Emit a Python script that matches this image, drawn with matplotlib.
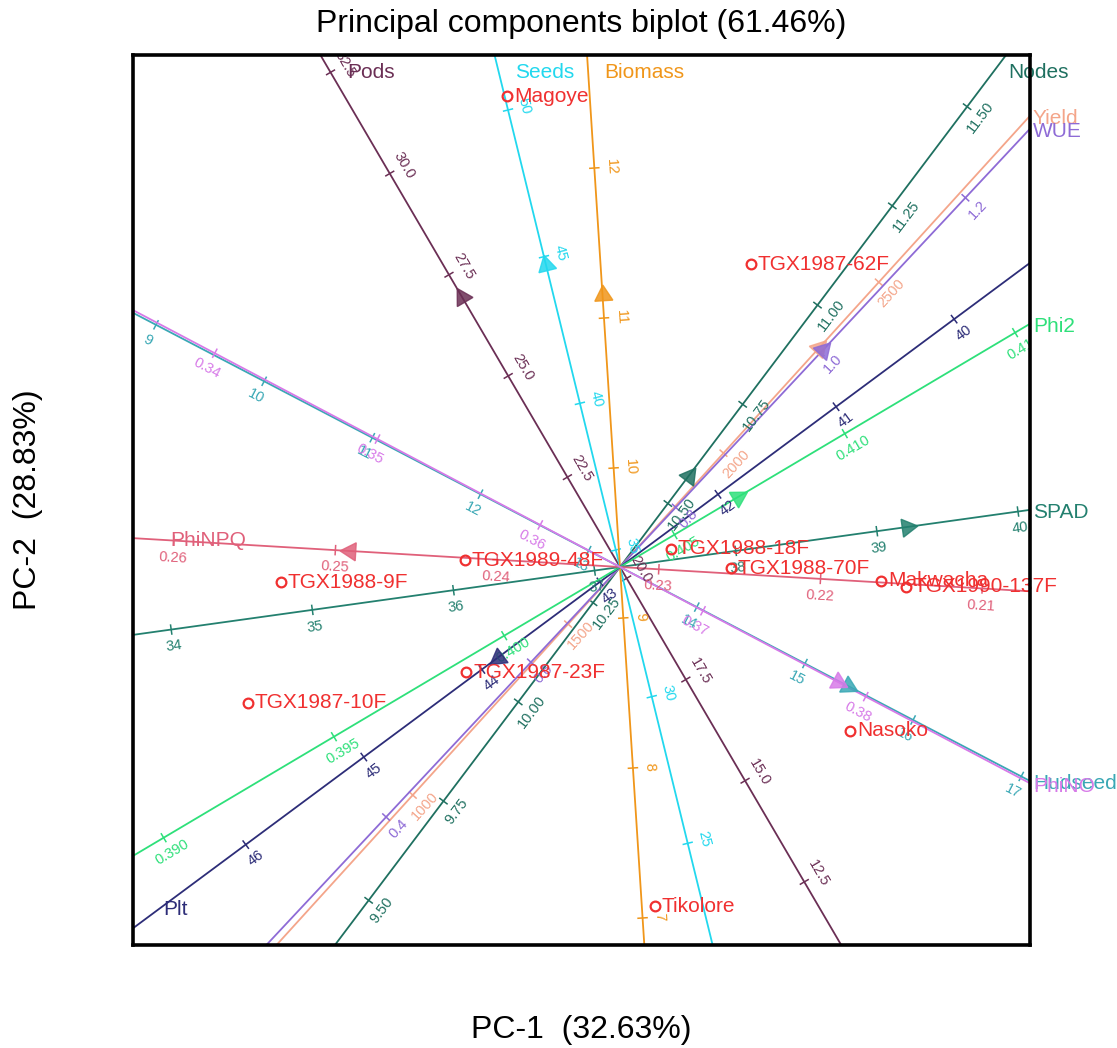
import numpy as np
import matplotlib
matplotlib.use("Agg")
import matplotlib.pyplot as plt

plt.rcParams['font.family'] = ['Liberation Sans', 'DejaVu Sans']

TITLE = "Principal components biplot (61.46%)"
XLABEL = "PC-1  (32.63%)"
YLABEL = "PC-2  (28.83%)"

# Genotype scores
genotypes = ["Magoye", "TGX1987-62F", "TGX1989-48F", "TGX1988-9F", "TGX1988-18F",
             "TGX1988-70F", "Makwacha", "TGX1990-137F", "TGX1987-23F", "TGX1987-10F",
             "Nasoko", "Tikolore"]
geno_pc1 = [-1.13, 1.31, -1.55, -3.39, 0.51, 1.11, 2.61, 2.86, -1.54, -3.72, 2.30, 0.35]
geno_pc2 = [4.71, 3.03, 0.07, -0.15, 0.18, -0.01, -0.14, -0.20, -1.05, -1.36, -1.64, -3.39]

# Trait vectors (arrow heads), calibration (value at origin, plot units per trait unit)
traits = ["Pods", "Seeds", "Biomass", "Nodes", "Yield", "WUE", "Plt", "Phi2", "SPAD",
          "PhiNPQ", "Hudseed", "PhiNO"]
trait_pc1 = [-1.58, -0.74, -0.175, 0.69, 1.99, 2.03, -1.22, 1.18, 2.87, -2.70, 2.28, 2.18]
trait_pc2 = [2.70, 3.02, 2.72, 0.915, 2.19, 2.17, -0.905, 0.70, 0.40, 0.16, -1.19, -1.15]
trait_mean = [20.28, 34.42, 9.34, 10.34, 1667, 0.723, 42.83, 0.4034, 37.18, 0.2324, 13.29, 0.3649]
trait_unit = [0.469, 0.302, 1.503, 4.97, 0.00462, 10.6, 1.47, 396, 1.425, 162, 1.22, 184]
trait_ticks = [
    [12.5, 15.0, 17.5, 20.0, 22.5, 25.0, 27.5, 30.0, 32.5],
    [25, 30, 35, 40, 45, 50],
    [7, 8, 9, 10, 11, 12],
    [9.50, 9.75, 10.00, 10.25, 10.50, 10.75, 11.00, 11.25, 11.50],
    [1000, 1500, 2000, 2500],
    [0.4, 0.6, 0.8, 1.0, 1.2],
    [40, 41, 42, 43, 44, 45, 46],
    [0.390, 0.395, 0.400, 0.405, 0.410, 0.415],
    [34, 35, 36, 37, 38, 39, 40],
    [0.21, 0.22, 0.23, 0.24, 0.25, 0.26],
    [9, 10, 11, 12, 13, 14, 15, 16, 17],
    [0.34, 0.35, 0.36, 0.37, 0.38],
]
tick_fmt = ["%.1f", "%d", "%d", "%.2f", "%d", "%.1f", "%d", "%.3f", "%d", "%.2f", "%d", "%.2f"]
trait_colors = ["#6B2F55", "#22D8EE", "#F0961A", "#1F7060", "#F4A58A", "#8E6BD6",
                "#2D2D78", "#2EE07A", "#23806F", "#E0607A", "#3AA8B5", "#D77AE8"]
GENO_COLOR = "#F03030"

XMIN, XMAX, YMIN, YMAX = -4.87, 4.10, -3.78, 5.12

fig = plt.figure(figsize=(11.17, 10.48), dpi=100)
ax = fig.add_axes([133 / 1117, 103 / 1048, 897 / 1117, 890 / 1048])
ax.set_xlim(XMIN, XMAX)
ax.set_ylim(YMIN, YMAX)
ax.set_xticks([])
ax.set_yticks([])
for s in ax.spines.values():
    s.set_linewidth(2.6)
    s.set_color("black")
    s.set_zorder(10)


def ray_end(u):
    ts = []
    if u[0] > 0:
        ts.append((XMAX / u[0], 'right'))
    elif u[0] < 0:
        ts.append((XMIN / u[0], 'left'))
    if u[1] > 0:
        ts.append((YMAX / u[1], 'top'))
    elif u[1] < 0:
        ts.append((YMIN / u[1], 'bottom'))
    return min(ts, key=lambda t: t[0])


for i, name in enumerate(traits):
    col = trait_colors[i]
    v = np.array([trait_pc1[i], trait_pc2[i]])
    u = v / np.linalg.norm(v)
    ang = np.degrees(np.arctan2(u[1], u[0]))
    ax.axline((0, 0), (u[0], u[1]), color=col, lw=1.3, zorder=2)

    # tick orientation
    a = ang % 180
    if a > 135:
        a -= 180
    rot = a if a <= 90 else a - 180
    side = np.radians(a - 90)
    sv = np.array([np.cos(side), np.sin(side)])
    pv = np.array([-u[1], u[0]])
    for val in trait_ticks[i]:
        p = (val - trait_mean[i]) * trait_unit[i] * u
        if not (XMIN < p[0] < XMAX and YMIN < p[1] < YMAX):
            continue
        ax.plot([p[0] - 0.045 * pv[0], p[0] + 0.045 * pv[0]],
                [p[1] - 0.045 * pv[1], p[1] + 0.045 * pv[1]], color=col, lw=1.1, zorder=2)
        q = p + 0.17 * sv
        ax.text(q[0], q[1], tick_fmt[i] % val, color=col, fontsize=10.5, rotation=rot,
                rotation_mode='anchor', ha='center', va='center', zorder=3, clip_on=True)

    # arrow head at the trait vector
    ax.plot([v[0]], [v[1]], marker=(3, 0, ang - 90), ms=15, color=col, mec=col,
            alpha=0.85, zorder=4)

    # label at the increasing end
    t, border = ray_end(u)
    e = t * u
    if border == 'top':
        tt = (YMAX - 0.18) / u[1]
        p = tt * u
        pos = (p[0] + 0.16, p[1])
    elif border == 'right':
        pos = (XMAX + 0.03, e[1] - 0.03)
    elif border == 'left':
        p = (t - 0.32) * u
        pos = (p[0] + 0.05, p[1])
    else:
        p = (t - 0.3) * u
        pos = (p[0] + 0.1, p[1])
    ax.text(pos[0], pos[1], name, color=col, fontsize=15, ha='left', va='center',
            zorder=6, clip_on=False)

# genotypes
ax.plot(geno_pc1, geno_pc2, 'o', ms=7, mfc='none', mec=GENO_COLOR, mew=1.6, zorder=7,
        linestyle='none')
for g, x, y in zip(genotypes, geno_pc1, geno_pc2):
    ax.text(x + 0.07, y, g, color=GENO_COLOR, fontsize=15, ha='left', va='center',
            zorder=8, clip_on=False)

fig.text(581 / 1117, 1 - 24 / 1048, TITLE, fontsize=23, ha='center', va='center')
fig.text(581 / 1117, 1 - 1030 / 1048, XLABEL, fontsize=23, ha='center', va='center')
fig.text(28 / 1117, 1 - 500 / 1048, YLABEL, fontsize=23, ha='center', va='center',
         rotation=90)

fig.savefig("out.png", dpi=100)
